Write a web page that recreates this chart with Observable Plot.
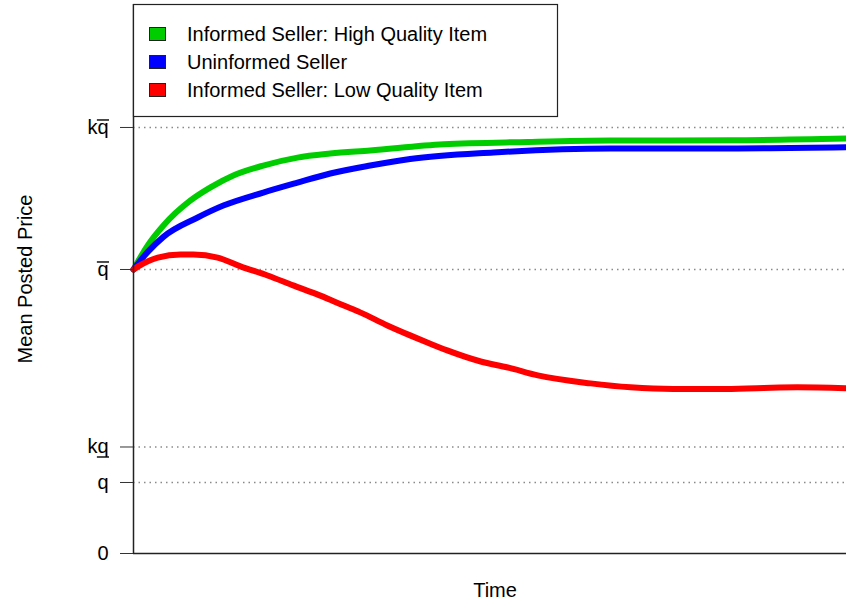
<!DOCTYPE html>
<html><head><meta charset="utf-8">
<script src="https://cdn.jsdelivr.net/npm/d3@7"></script>
<script src="https://cdn.jsdelivr.net/npm/@observablehq/plot@0.6"></script>
<style>
body{margin:0;background:#fff}
#chart svg{font-family:"Liberation Sans",Arial,Helvetica,sans-serif}
</style>
</head><body><div id="chart"></div>
<script>
// Series (drawn in this order)
const seriesNames = ["Informed Seller: High Quality Item", "Uninformed Seller", "Informed Seller: Low Quality Item"];
const seriesColors = ["#00CD00", "#0000FF", "#FF0000"];

const highTime  = [0, 2.0, 4.2, 8.0, 10.8, 14.0, 18.2, 23.0, 27.6, 33.2, 43.5, 55.3, 66.9, 83.7, 100];
const highPrice = [1.000, 1.085, 1.155, 1.243, 1.289, 1.331, 1.366, 1.394, 1.408, 1.419, 1.441, 1.449, 1.454, 1.455, 1.461];

const uninfTime  = [0, 2.0, 4.2, 9.0, 12.6, 18.2, 23.0, 27.6, 33.2, 38.8, 50.5, 66.9, 83.7, 100];
const uninfPrice = [1.000, 1.062, 1.115, 1.183, 1.225, 1.271, 1.306, 1.338, 1.366, 1.389, 1.412, 1.426, 1.426, 1.430];

const lowTime  = [0, 0.6, 3.4, 6.6, 8.4, 11.8, 15.0, 18.8, 22.4, 26.2, 29.5, 31.8, 35.6, 38.8, 41.2, 44.0, 48.7, 52.5, 56.7, 64.1, 69.7, 75.7, 82.3, 88.4, 93.1, 100];
const lowPrice = [1.000, 1.010, 1.042, 1.053, 1.053, 1.042, 1.011, 0.979, 0.944, 0.908, 0.873, 0.849, 0.803, 0.768, 0.743, 0.715, 0.676, 0.655, 0.627, 0.599, 0.585, 0.579, 0.579, 0.583, 0.585, 0.582];

// Y ticks: 0, q, k·q(underline), q(overline), k·q(overline)
const yTickValues = [0, 0.25, 0.375, 1, 1.5];
const yTickLabels = ["0", "q", "kq\u0332", "q\u0305", "kq\u0305"];
const gridValues = [0.25, 0.375, 1, 1.5];

const xLabel = "Time";
const yLabel = "Mean Posted Price";

const toRows = (t, v) => t.map((d, i) => ({t: d, v: v[i]}));
const seriesData = [toRows(highTime, highPrice), toRows(uninfTime, uninfPrice), toRows(lowTime, lowPrice)];

const plot = Plot.plot({
  width: 846,
  height: 606,
  marginLeft: 133,
  marginRight: 0,
  marginTop: 4,
  marginBottom: 53,
  style: {fontSize: "20px", fontFamily: '"Liberation Sans", Arial, sans-serif', color: "#000", background: "#fff", overflow: "visible"},
  x: {domain: [0, 100], axis: null},
  y: {domain: [0, 1.933], axis: null},
  marks: [
    Plot.ruleY(gridValues, {stroke: "#8a8a8a", strokeWidth: 1.3, strokeDasharray: "1.5,4"}),
    ...seriesData.map((rows, i) => Plot.line(rows, {x: "t", y: "v", stroke: seriesColors[i], strokeWidth: 6, curve: "monotone-x", strokeLinecap: "round", strokeLinejoin: "round"})),
    Plot.ruleX([0], {stroke: "#222", strokeWidth: 1.5}),
    Plot.ruleY([0], {stroke: "#222", strokeWidth: 1.5}),
    Plot.axisY({
      ticks: yTickValues,
      tickSize: 13,
      tickPadding: 12,
      stroke: "#333",
      tickFormat: d => yTickLabels[yTickValues.indexOf(d)],
      label: null,
      fontSize: 20
    }),
    Plot.text([yLabel], {frameAnchor: "left", rotate: -90, dx: -108, textAnchor: "middle", text: d => d, fontSize: 20, fill: "#000"}),
    Plot.text([xLabel], {frameAnchor: "bottom", dy: 37.5, dx: 5, lineAnchor: "middle", textAnchor: "middle", text: d => d, fontSize: 20, fill: "#000"})
  ]
});

document.getElementById("chart").appendChild(plot);

// Render combining overline/underline (bar over/under the "q") as in the original math labels
d3.select(plot).selectAll("g[aria-label='y-axis tick label'] text").each(function() {
  const s = this.textContent;
  let deco = null;
  if (s.includes("\u0305")) deco = "over";
  else if (s.includes("\u0332")) deco = "under";
  if (!deco) return;
  const base = s.replace(/[\u0305\u0332]/g, "");
  this.textContent = base;
  const ext = this.getExtentOfChar(base.length - 1);
  const yy = deco === "over" ? -7.5 : 10;
  d3.select(this.parentNode).append("line")
    .attr("transform", this.getAttribute("transform"))
    .attr("x1", ext.x - 0.5).attr("x2", ext.x + ext.width + 0.5)
    .attr("y1", yy).attr("y2", yy)
    .attr("stroke", "#000").attr("stroke-width", 1.4);
});

// Legend box (top-left, as in R's legend("topleft"))
const svg = d3.select(plot);
const lg = svg.append("g").attr("class", "legend").attr("text-anchor", "start");
lg.append("rect").attr("x", 133.5).attr("y", 4.5).attr("width", 424).attr("height", 112)
  .attr("fill", "#fff").attr("stroke", "#222").attr("stroke-width", 1.2);
seriesNames.forEach((name, i) => {
  const cy = 34 + i * 28;
  lg.append("rect").attr("x", 149.5).attr("y", cy - 6.5).attr("width", 16).attr("height", 13)
    .attr("fill", seriesColors[i]).attr("stroke", "#222").attr("stroke-width", 1);
  lg.append("text").attr("x", 187).attr("y", cy).attr("dy", "0.35em").attr("text-anchor", "start")
    .attr("font-size", 20).attr("fill", "#000").text(name);
});
</script>
</body></html>
